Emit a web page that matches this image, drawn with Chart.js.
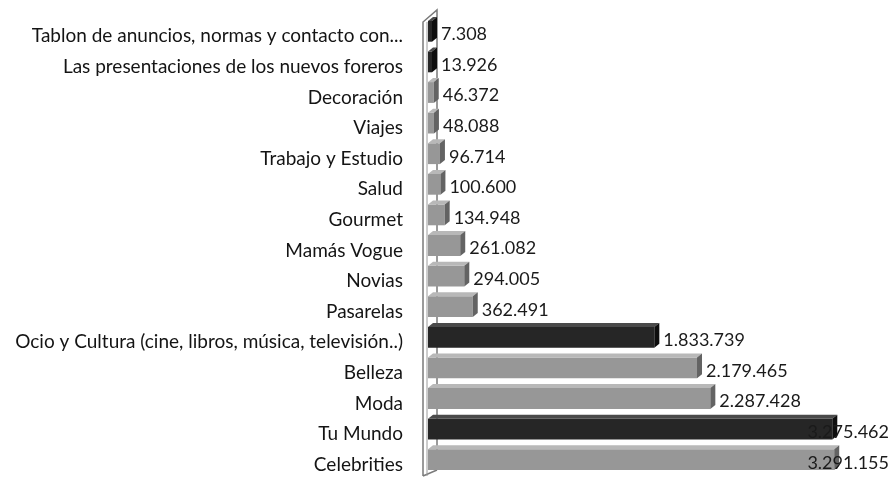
<!DOCTYPE html>
<html>
<head>
<meta charset="utf-8">
<script src="https://cdn.jsdelivr.net/npm/chart.js@4"></script>
<style>
  html, body { margin: 0; padding: 0; background: #fff; }
  #wrap { width: 895px; height: 477px; }
</style>
</head>
<body>
<div id="wrap"><canvas id="barChart" width="895" height="477"></canvas></div>
<script>
var categories = [
  'Tablon de anuncios, normas y contacto con...',
  'Las presentaciones de los nuevos foreros',
  'Decoración',
  'Viajes',
  'Trabajo y Estudio',
  'Salud',
  'Gourmet',
  'Mamás Vogue',
  'Novias',
  'Pasarelas',
  'Ocio y Cultura (cine, libros, música, televisión..)',
  'Belleza',
  'Moda',
  'Tu Mundo',
  'Celebrities'
];
var visits = [7308, 13926, 46372, 48088, 96714, 100600, 134948, 261082, 294005, 362491, 1833739, 2179465, 2287428, 3275462, 3291155];
var darkRows = ['Tablon de anuncios, normas y contacto con...', 'Las presentaciones de los nuevos foreros', 'Ocio y Cultura (cine, libros, música, televisión..)', 'Tu Mundo'];

var GRAY = { front: '#979797', top: '#b8b8b8', side: '#636363' };
var DARK = { front: '#262626', top: '#4a4a4a', side: '#0e0e0e' };
var DX = 5, DY = 4;

function fmt(v) {
  return String(v).replace(/\B(?=(\d{3})+(?!\d))/g, '.');
}
function shadeFor(i) {
  return darkRows.indexOf(categories[i]) >= 0 ? DARK : GRAY;
}

var wallPlugin = {
  id: 'wall',
  beforeDatasetsDraw: function(chart) {
    var a = chart.chartArea, c = chart.ctx;
    var x0 = a.left - 5, x1 = a.left + 9;
    var top = 22, bot = 476;
    c.save();
    c.strokeStyle = '#7a7a7a';
    c.lineWidth = 1.5;
    c.beginPath();
    c.moveTo(x0, bot);
    c.lineTo(x0, top);
    c.lineTo(x1, top - 12);
    c.lineTo(x1, bot - 6);
    c.moveTo(x0, bot);
    c.lineTo(x1, bot - 6);
    c.stroke();
    c.strokeStyle = '#9a9a9a';
    c.lineWidth = 1;
    c.beginPath();
    c.moveTo(x0 + 4, top);
    c.lineTo(x0 + 4, bot);
    c.stroke();
    c.restore();
  }
};

var bar3dPlugin = {
  id: 'bar3d',
  afterDatasetsDraw: function(chart) {
    var c = chart.ctx;
    var meta = chart.getDatasetMeta(0);
    c.save();
    meta.data.forEach(function(bar, i) {
      var s = shadeFor(i);
      var x0 = bar.base, x1 = bar.x;
      var t = bar.y - bar.height / 2, b = bar.y + bar.height / 2;
      c.fillStyle = s.top;
      c.beginPath();
      c.moveTo(x0, t); c.lineTo(x0 + DX, t - DY); c.lineTo(x1 + DX, t - DY); c.lineTo(x1, t);
      c.closePath(); c.fill();
      c.fillStyle = s.side;
      c.beginPath();
      c.moveTo(x1, t); c.lineTo(x1 + DX, t - DY); c.lineTo(x1 + DX, b - DY); c.lineTo(x1, b);
      c.closePath(); c.fill();

      c.font = '18px Lato';
      c.fillStyle = '#1a1a1a';
      c.textBaseline = 'middle';
      var txt = fmt(visits[i]);
      var w = c.measureText(txt).width;
      var tx = Math.min(x1 + DX + 4, chart.width - 6 - w);
      c.fillText(txt, tx, bar.y + 3);
    });
    c.restore();
  }
};

var ctx = document.getElementById('barChart');
new Chart(ctx, {
  type: 'bar',
  data: {
    labels: categories,
    datasets: [{
      data: visits,
      backgroundColor: categories.map(function(c, i) { return shadeFor(i).front; }),
      borderWidth: 0,
      barPercentage: 0.68,
      categoryPercentage: 1,
      minBarLength: 4
    }]
  },
  options: {
    indexAxis: 'y',
    responsive: false,
    animation: false,
    layout: { padding: { top: 16, bottom: 2, right: 35, left: 0 } },
    plugins: { legend: { display: false }, tooltip: { enabled: false } },
    scales: {
      x: {
        display: false,
        min: 0,
        max: 3500000
      },
      y: {
        grid: { display: false },
        border: { display: false },
        afterFit: function(scale) {
          scale.width = 428;
          scale.paddingTop = 0;
          scale.paddingBottom = 0;
        },
        ticks: {
          autoSkip: false,
          padding: 17,
          labelOffset: 5,
          color: '#141414',
          font: { family: 'Lato', size: 19 }
        }
      }
    }
  },
  plugins: [wallPlugin, bar3dPlugin]
});
</script>
</body>
</html>
